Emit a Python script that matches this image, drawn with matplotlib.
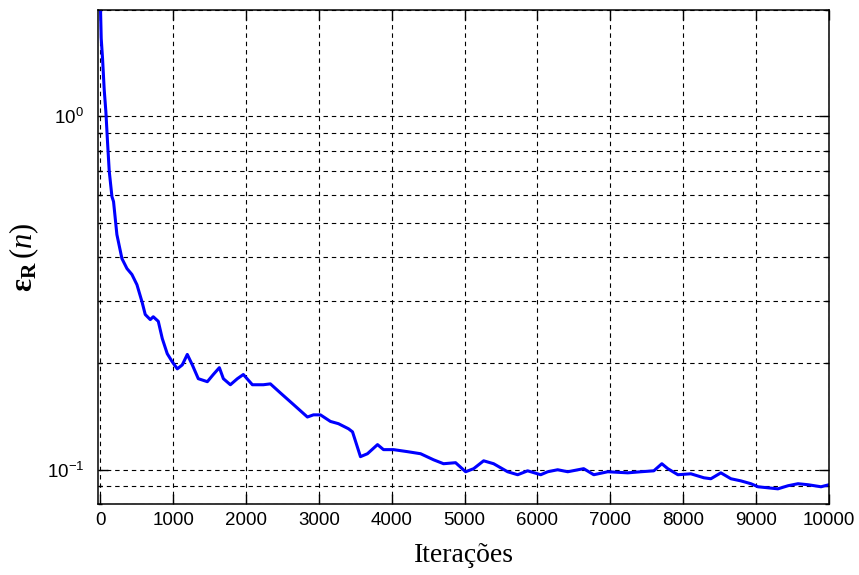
import matplotlib
matplotlib.use('Agg')
import matplotlib.pyplot as plt
import matplotlib.ticker as plticker

# error curve (iteration, eps_R)
iters = [0, 14, 32, 55, 78, 100, 124, 161, 183, 229, 298, 367, 435, 504,
         573, 618, 687, 728, 797, 852, 920, 989, 1058, 1126, 1195, 1264,
         1346, 1470, 1552, 1635, 1690, 1786, 1882, 1964, 2088, 2239, 2335,
         2472, 2651, 2843, 2926, 3022, 3159, 3269, 3407, 3462, 3571, 3667,
         3805, 3887, 4025, 4217, 4396, 4574, 4711, 4876, 5014, 5124, 5261,
         5398, 5590, 5728, 5865, 6044, 6140, 6277, 6415, 6634, 6772, 6964,
         7239, 7418, 7596, 7706, 7788, 7926, 8104, 8283, 8379, 8516, 8654,
         8791, 8928, 9025, 9299, 9437, 9574, 9712, 9890, 10000]
eps_r = [2.2, 1.66, 1.46, 1.19, 1.03, 0.85, 0.70, 0.593, 0.574, 0.463,
         0.396, 0.371, 0.357, 0.334, 0.299, 0.275, 0.266, 0.271, 0.263,
         0.235, 0.213, 0.202, 0.193, 0.198, 0.212, 0.198, 0.181, 0.1775,
         0.186, 0.1945, 0.181, 0.174, 0.181, 0.186, 0.174, 0.174, 0.175,
         0.165, 0.153, 0.141, 0.143, 0.143, 0.137, 0.135, 0.1306, 0.128,
         0.1089, 0.111, 0.1178, 0.114, 0.114, 0.1125, 0.111, 0.1067, 0.104,
         0.1047, 0.0987, 0.1007, 0.106, 0.104, 0.0987, 0.0968, 0.0993,
         0.0968, 0.0987, 0.1, 0.0987, 0.1007, 0.0968, 0.0987, 0.098, 0.0987,
         0.0993, 0.104, 0.1007, 0.0968, 0.0974, 0.0949, 0.0943, 0.098,
         0.0943, 0.093, 0.0913, 0.0895, 0.0883, 0.0901, 0.0913, 0.0907,
         0.0895, 0.0907]

xticks = list(range(0, 10001, 1000))

plt.rcParams['font.family'] = 'Liberation Sans'
plt.rcParams['font.size'] = 13
# serif math just for the y label
plt.rcParams['mathtext.fontset'] = 'custom'
plt.rcParams['mathtext.rm'] = 'Liberation Serif'
plt.rcParams['mathtext.it'] = 'Liberation Serif:italic'
plt.rcParams['mathtext.bf'] = 'Liberation Serif:bold'

fig = plt.figure(figsize=(8.59, 5.75), dpi=100)
ax = fig.add_axes([0.1141, 0.1235, 0.8510, 0.8591])

ax.plot(iters, eps_r, color='#0000ff', linewidth=2.2)

ax.set_yscale('log')
ax.set_xlim(-30, 10000)
ax.set_ylim(0.08, 2)
ax.set_xticks(xticks)
ax.xaxis.set_minor_locator(plticker.NullLocator())
ax.yaxis.set_minor_locator(plticker.LogLocator(base=10, subs=range(2, 10)))
ax.yaxis.set_minor_formatter(plticker.NullFormatter())

dash = (0, (4, 3.5))
ax.grid(which='major', axis='both', color='black', linestyle=dash, linewidth=0.8)
ax.grid(which='minor', axis='y', color='black', linestyle=dash, linewidth=0.8)

ax.tick_params(which='both', direction='in', top=True, right=True, colors='black')
ax.tick_params(which='major', length=7, width=1)
ax.tick_params(which='minor', length=3, width=1)
ax.tick_params(axis='x', which='major', pad=6, labelsize=13.5)
ax.tick_params(axis='y', which='major', pad=10, labelsize=13.5)
for s in ax.spines.values():
    s.set_linewidth(1.1)

ax.set_xlabel('Iterações', family='Liberation Serif', fontsize=20, labelpad=10)
ax.set_ylabel(r'$\mathbf{ε}_{\mathbf{R}}\,(\mathit{n})$', fontsize=22, labelpad=4)

fig.savefig('out.png', dpi=100)
